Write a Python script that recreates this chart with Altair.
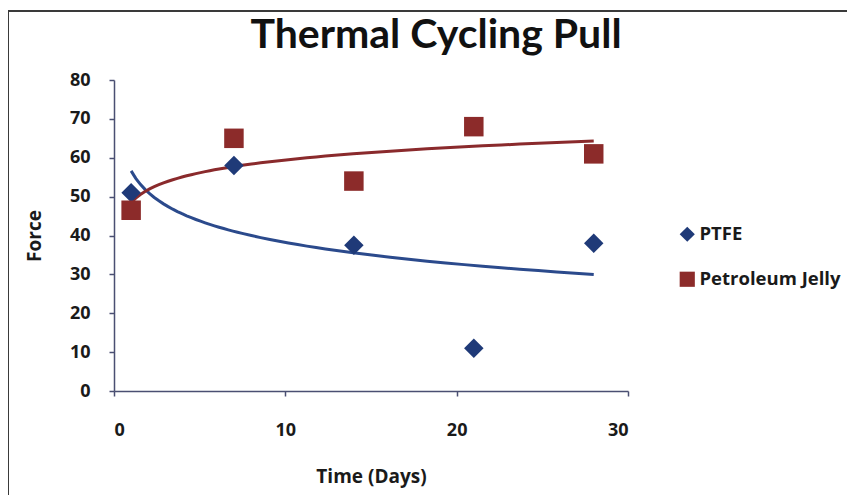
import altair as alt
import pandas as pd

days = [1, 7, 14, 21, 28]
ptfe = [51, 58, 37.5, 11, 38]
jelly = [46.5, 65, 54, 68, 61]
series_names = ["PTFE", "Petroleum Jelly"]
colors = ["#1F3A78", "#8C2B2A"]
line_colors = ["#2B4A8C", "#8A2A2C"]

df = pd.DataFrame({
    "Time": days * 2,
    "Force": ptfe + jelly,
    "Series": [series_names[0]] * len(days) + [series_names[1]] * len(days),
})

x = alt.X("Time:Q", title="Time (Days)",
          scale=alt.Scale(domain=[0, 30], nice=False),
          axis=alt.Axis(values=[0, 10, 20, 30], tickSize=5, labelPadding=25,
                        titlePadding=28))
y = alt.Y("Force:Q", title="Force",
          scale=alt.Scale(domain=[0, 80], nice=False),
          axis=alt.Axis(values=list(range(0, 81, 10)), tickSize=5, labelPadding=19,
                        titlePadding=25))

base = alt.Chart(df)

frame = base.mark_rect(fill=None, stroke="#3a3a3a", strokeWidth=2).encode(
    x=alt.value(-106), x2=alt.value(900), y=alt.value(-69), y2=alt.value(700)
)

trend_ptfe = base.transform_filter(alt.datum.Series == series_names[0]).transform_regression(
    "Time", "Force", method="log"
).mark_line(color=line_colors[0], strokeWidth=3).encode(x=x, y=y)

trend_jelly = base.transform_filter(alt.datum.Series == series_names[1]).transform_regression(
    "Time", "Force", method="log"
).mark_line(color=line_colors[1], strokeWidth=3).encode(x=x, y=y)

legend = alt.Legend(title=None, orient="none", legendX=564, legendY=145,
                    symbolSize=230, labelFontSize=18.5, labelFont="Open Sans",
                    labelFontWeight="bold", labelColor="#1a1a1a",
                    rowPadding=26, labelOffset=3, symbolStrokeWidth=0,
                    labelLimit=300)

points = base.mark_point(filled=True, opacity=1, size=380).encode(
    x=x, y=y,
    color=alt.Color("Series:N", scale=alt.Scale(domain=series_names, range=colors), legend=legend),
    shape=alt.Shape("Series:N", scale=alt.Scale(domain=series_names, range=["diamond", "square"]),
                    legend=legend),
)

chart = alt.layer(frame, trend_ptfe, trend_jelly, points).properties(
    width=514, height=311,
    padding={"left": 106, "top": 72, "right": 219, "bottom": 104},
    autosize=alt.AutoSizeParams(type="none"),
    title=alt.TitleParams("Thermal Cycling Pull", fontSize=41, font="Lato", fontWeight="bold",
                          color="#111111", frame="group", dx=65, offset=-47),
).configure_view(stroke=None).configure_axis(
    grid=False, domainColor="#4a4f72", tickColor="#4a4f72", domainWidth=1.5, tickWidth=1.5,
    labelFont="Open Sans", labelFontSize=18, labelFontWeight="bold", labelColor="#1a1a1a",
    titleFont="Open Sans", titleFontSize=19, titleFontWeight="bold", titleColor="#1a1a1a",
)

chart.save("out.html", embed_options={"renderer": "svg", "actions": False})
